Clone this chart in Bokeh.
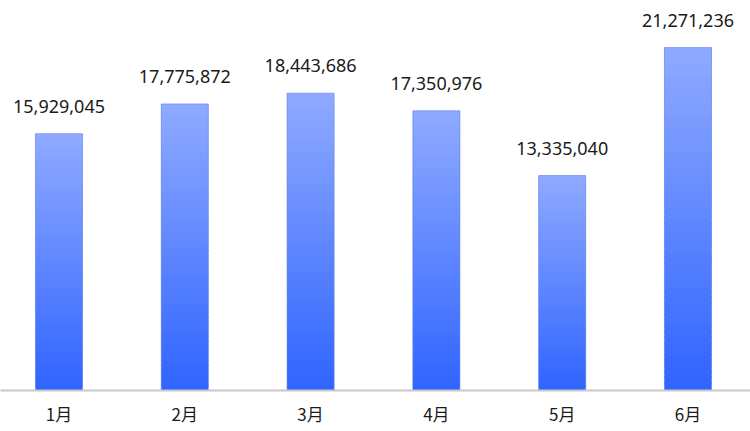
from bokeh.plotting import figure
from bokeh.models import ColumnDataSource, FixedTicker, Range1d
from bokeh.embed import file_html
from bokeh.resources import INLINE
from bokeh.core.properties import value

months = ["1月", "2月", "3月", "4月", "5月", "6月"]
counts = [15929045, 17775872, 18443686, 17350976, 13335040, 21271236]

top_rgb = (0x8F, 0xAA, 0xFF)
bot_rgb = (0x30, 0x64, 0xFF)
N = 60

xs = list(range(len(months)))
bw = 0.374

p = figure(width=750, height=431, output_backend="svg", toolbar_location=None,
           x_range=Range1d(-0.465, 5.497), y_range=Range1d(0, 24190000),
           min_border_left=0, min_border_right=0, min_border_top=0,
           min_border_bottom=41)

# gradient bars as stacked slices
l, r, b, t, c = [], [], [], [], []
for x, v in zip(xs, counts):
    for k in range(N):
        f = (k + 0.5) / N
        col = tuple(int(round(bot_rgb[j] + (top_rgb[j] - bot_rgb[j]) * f)) for j in range(3))
        l.append(x - bw / 2)
        r.append(x + bw / 2)
        b.append(v * k / N)
        t.append(min(v, v * (k + 1.6) / N))
        c.append("#%02x%02x%02x" % col)
p.quad(left=l, right=r, bottom=b, top=t, fill_color=c, line_color=None)

src = ColumnDataSource(dict(x=xs, y=counts, lab=[f"{v:,}" for v in counts]))
p.vbar(x="x", top="y", width=bw, source=src, fill_color=None,
       line_color="#5f80e8", line_alpha=0.6, line_width=1)
p.text(x="x", y="y", text="lab", source=src, text_align="center",
       text_baseline="bottom", y_offset=-21, text_font=value("Noto Sans"),
       text_font_size="18px", text_color="#1a1a1a")

p.xaxis.ticker = FixedTicker(ticks=xs)
p.xaxis.major_label_overrides = {i: m for i, m in zip(xs, months)}
p.xaxis.major_label_text_font = "Noto Sans CJK KR"
p.xaxis.major_label_text_font_size = "17px"
p.xaxis.major_label_text_color = "#1a1a1a"
p.xaxis.major_label_standoff = 10
p.xaxis.major_tick_out = 0
p.xaxis.major_tick_in = 0
p.xaxis.axis_line_color = "#c8c8c8"
p.xaxis.axis_line_width = 2
p.xaxis.major_tick_line_color = None
p.xaxis.minor_tick_line_color = None
p.yaxis.visible = False
p.xgrid.visible = False
p.ygrid.visible = False
p.outline_line_color = None
p.background_fill_color = "white"
p.border_fill_color = "white"

open("out.html", "w").write(file_html(p, INLINE))
